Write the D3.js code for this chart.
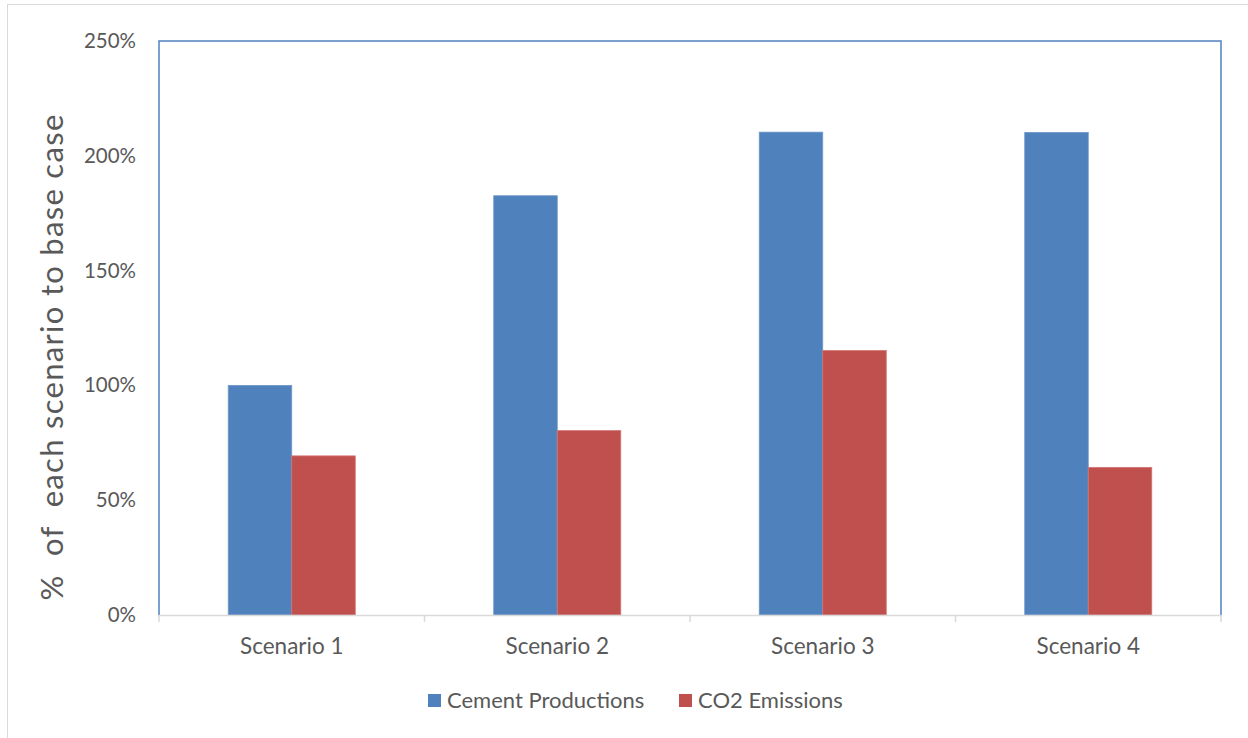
<!DOCTYPE html>
<html>
<head>
<meta charset="utf-8">
<script src="https://cdn.jsdelivr.net/npm/d3@7"></script>
<style>
  html, body { margin: 0; padding: 0; background: #fff; }
  svg { display: block; font-family: Lato, "Open Sans", sans-serif; }
</style>
</head>
<body>
<svg id="chart" width="1248" height="738"></svg>
<script>
// Scenario comparison data (% of base case)
const categories = ["Scenario 1", "Scenario 2", "Scenario 3", "Scenario 4"];
const seriesNames = ["Cement Productions", "CO2 Emissions"];
const cementValues = [100, 182.6, 210.3, 210.2];
const co2Values = [69.3, 80.3, 115.2, 64.3];
const yTicks = [0, 50, 100, 150, 200, 250];
const colors = ["#4F81BD", "#C0504D"];

const svg = d3.select("#chart");
const plot = { left: 159, right: 1221, top: 41, bottom: 615 };

// Outer chart-area border
svg.append("rect")
  .attr("x", 7.5).attr("y", 4.5)
  .attr("width", 1300).attr("height", 800)
  .attr("fill", "none").attr("stroke", "#d9d9d9").attr("stroke-width", 1);

const x = d3.scaleBand().domain(categories).range([plot.left, plot.right]).padding(0);
const xInner = d3.scaleBand().domain(seriesNames).range([0, x.bandwidth()])
  .paddingInner(0).paddingOuter(1.09);
const y = d3.scaleLinear().domain([0, 250]).range([plot.bottom, plot.top]);

const rows = categories.map((c, i) => ({
  category: c,
  values: [cementValues[i], co2Values[i]]
}));

// Bars
const groups = svg.append("g").selectAll("g").data(rows).join("g")
  .attr("transform", d => `translate(${x(d.category)},0)`);
groups.selectAll("rect")
  .data(d => d.values.map((v, j) => ({ name: seriesNames[j], value: v, j })))
  .join("rect")
  .attr("x", d => xInner(d.name))
  .attr("y", d => y(d.value))
  .attr("width", xInner.bandwidth())
  .attr("height", d => y(0) - y(d.value))
  .attr("fill", d => colors[d.j])
  .attr("stroke", d => d.j === 0 ? "#6f97c9" : "#d27571")
  .attr("stroke-width", 0.8);

// Plot-area frame (left, top, right)
svg.append("path")
  .attr("d", `M${plot.left},${plot.bottom}V${plot.top}H${plot.right}V${plot.bottom}`)
  .attr("fill", "none").attr("stroke", "#4F81BD").attr("stroke-width", 1.5);

// Category axis
const xAxis = d3.axisBottom(x).tickSize(0).tickFormat(d => d);
const gx = svg.append("g").attr("transform", `translate(0,${plot.bottom})`).call(xAxis);
gx.select(".domain").attr("stroke", "#d9d9d9").attr("stroke-width", 1.5);
gx.selectAll(".tick text")
  .attr("dy", 0).attr("y", 39)
  .attr("fill", "#595959").attr("font-size", 22.5)
  .attr("font-family", "Lato, 'Open Sans', sans-serif");
// Boundary tick marks between categories
const bounds = categories.map(c => x(c)).concat([x(categories[categories.length - 1]) + x.bandwidth()]);
gx.selectAll("line.bound").data(bounds).join("line")
  .attr("class", "bound")
  .attr("x1", d => d).attr("x2", d => d)
  .attr("y1", 0).attr("y2", 7)
  .attr("stroke", "#d9d9d9").attr("stroke-width", 1.5);

// Value axis labels
const yAxis = d3.axisLeft(y).tickValues(yTicks).tickSize(0).tickFormat(d => d + "%");
const gy = svg.append("g").attr("transform", `translate(${plot.left},0)`).call(yAxis);
gy.select(".domain").remove();
gy.selectAll(".tick text")
  .attr("x", -23)
  .attr("fill", "#595959").attr("font-size", 20.5)
  .attr("font-family", "Lato, 'Open Sans', sans-serif");

// Axis title
svg.append("text")
  .attr("transform", "translate(63,357) rotate(-90)")
  .attr("text-anchor", "middle")
  .attr("fill", "#595959")
  .attr("font-size", 31)
  .attr("letter-spacing", 1.3)
  .attr("xml:space", "preserve")
  .style("white-space", "pre")
  .text("%  of  each scenario to base case");

// Legend
const legendItems = [
  { name: seriesNames[0], color: colors[0], x: 428 },
  { name: seriesNames[1], color: colors[1], x: 679 }
];
const lg = svg.append("g").selectAll("g").data(legendItems).join("g")
  .attr("transform", d => `translate(${d.x},694)`);
lg.append("rect").attr("width", 13).attr("height", 13).attr("fill", d => d.color);
lg.append("text")
  .attr("x", 19).attr("y", 14)
  .attr("fill", "#595959").attr("font-size", 22)
  .text(d => d.name);
</script>
</body>
</html>
